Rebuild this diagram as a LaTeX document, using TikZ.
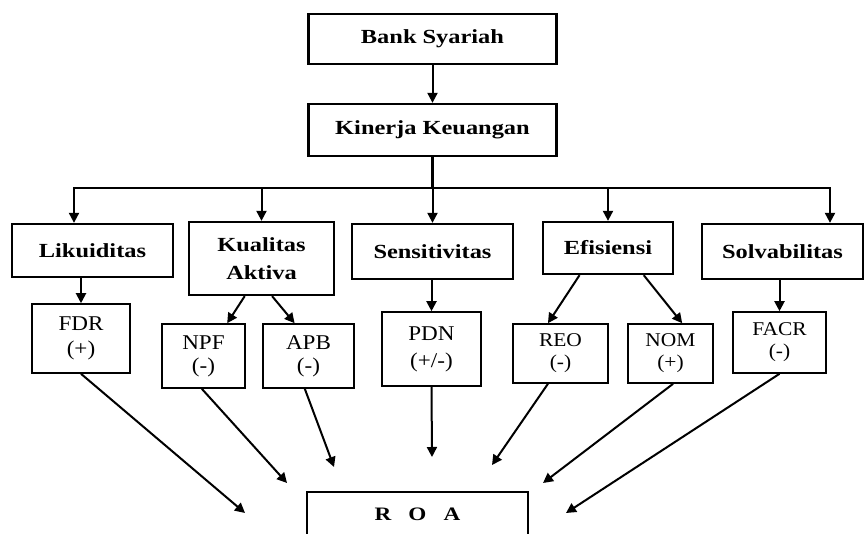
\documentclass[tikz,border=0pt]{standalone}
\usepackage{fontspec}
\setmainfont{Liberation Serif}
\newfontfamily\bfont[FakeStretch=1.22]{Liberation Serif}
\newfontfamily\rfont[FakeStretch=1.1]{Liberation Serif}
\usetikzlibrary{arrows.meta,calc}
\begin{document}
\begin{tikzpicture}[x=1pt,y=-1pt,
  mainbox/.style={draw,line width=2.3pt,inner sep=0pt,align=center,font=\bfont\bfseries\fontsize{20}{28}\selectfont},
  subbox/.style={draw,line width=1.6pt,inner sep=0pt,align=center,font=\rfont\fontsize{21}{25}\selectfont},
  smallsub/.style={subbox,font=\rfont\fontsize{19.5}{22}\selectfont},
  arr/.style={line width=2pt,-{Triangle[length=10pt,width=10pt]}},
  link/.style={line width=2.2pt}]
\useasboundingbox (0,0) rectangle (865,533);
\fill[white] (0,0) rectangle (865,533);
% top boxes
\node[mainbox,minimum width=248,minimum height=50] (bank) at (432.5,39) {Bank Syariah};
\node[mainbox,minimum width=248,minimum height=52] (kin) at (432.5,130) {Kinerja Keuangan};
% second level
\node[mainbox,minimum width=161,minimum height=53] (liq) at (92.5,250.5) {Likuiditas};
\node[mainbox,minimum width=145,minimum height=73] (kual) at (261.5,258.5) {Kualitas\\Aktiva};
\node[mainbox,minimum width=161,minimum height=55] (sens) at (432.5,251.5) {Sensitivitas};
\node[mainbox,minimum width=130,minimum height=52] (efis) at (608,248) {Efisiensi};
\node[mainbox,minimum width=161,minimum height=55] (solv) at (782.5,251.5) {Solvabilitas};
% third level
\node[subbox,minimum width=98,minimum height=69] (fdr) at (81,338.5) {FDR\\(+)};
\node[subbox,minimum width=83,minimum height=64] (npf) at (203.5,356) {NPF\\[-2pt](-)};
\node[subbox,minimum width=91,minimum height=64] (apb) at (308.5,356) {APB\\[-2pt](-)};
\node[subbox,minimum width=99,minimum height=74] (pdn) at (431.5,349) {PDN\\[2pt](+/-)};
\node[smallsub,minimum width=95,minimum height=59] (reo) at (560.5,353.5) {REO\\(-)};
\node[smallsub,minimum width=85,minimum height=59] (nom) at (670.5,353.5) {NOM\\(+)};
\node[smallsub,minimum width=93,minimum height=61] (facr) at (779.5,342.5) {FACR\\(-)};
% ROA
\node[mainbox,line width=1.7pt,minimum width=221,minimum height=45,font=\bfont\bfseries\fontsize{19}{22}\selectfont] (roa) at (417.5,514.5) {R\hspace{17pt}O\hspace{17pt}A};
% connectors top
\draw[arr] (bank.south) -- (kin.north);
\coordinate (bus) at (432.5,188);
\coordinate (busL) at (74,188);
\coordinate (busR) at (830,188);
\draw[line width=3pt] (kin.south) -- (bus);
\draw[link,line cap=rect] (busL) -- (busR);
\draw[arr] (busL) -- (busL |- liq.north);
\draw[arr] (kual.north |- bus) -- (kual.north);
\draw[arr] (sens.north |- bus) -- (sens.north);
\draw[arr] (efis.north |- bus) -- (efis.north);
\draw[arr] (busR) -- (busR |- solv.north);
% second to third
\draw[arr] (fdr.north |- liq.south) -- (fdr.north);
\draw[arr] ($(kual.south west)!0.386!(kual.south east)$) -- ($(npf.north west)!0.78!(npf.north east)$);
\draw[arr] ($(kual.south west)!0.572!(kual.south east)$) -- ($(apb.north west)!0.35!(apb.north east)$);
\draw[arr] (pdn.north |- sens.south) -- (pdn.north);
\draw[arr] ($(efis.south west)!0.285!(efis.south east)$) -- ($(reo.north west)!0.37!(reo.north east)$);
\draw[arr] ($(efis.south west)!0.77!(efis.south east)$) -- ($(nom.north west)!0.635!(nom.north east)$);
\draw[arr] (facr.north |- solv.south) -- (facr.north);
% to ROA
\coordinate (tFDR) at (245,513);
\coordinate (tNPF) at (287,483);
\coordinate (tAPB) at (334,467);
\coordinate (tPDN) at (432,457);
\coordinate (tREO) at (492,465);
\coordinate (tNOM) at (543,483);
\coordinate (tFACR) at (566,513);
\draw[arr] (fdr.south) -- (tFDR);
\draw[arr] ($(npf.south west)!0.48!(npf.south east)$) -- (tNPF);
\draw[arr] ($(apb.south west)!0.46!(apb.south east)$) -- (tAPB);
\draw[arr] (pdn.south) -- (tPDN);
\draw[arr] ($(reo.south west)!0.37!(reo.south east)$) -- (tREO);
\draw[arr] ($(nom.south west)!0.53!(nom.south east)$) -- (tNOM);
\draw[arr] (facr.south) -- (tFACR);
\end{tikzpicture}
\end{document}
